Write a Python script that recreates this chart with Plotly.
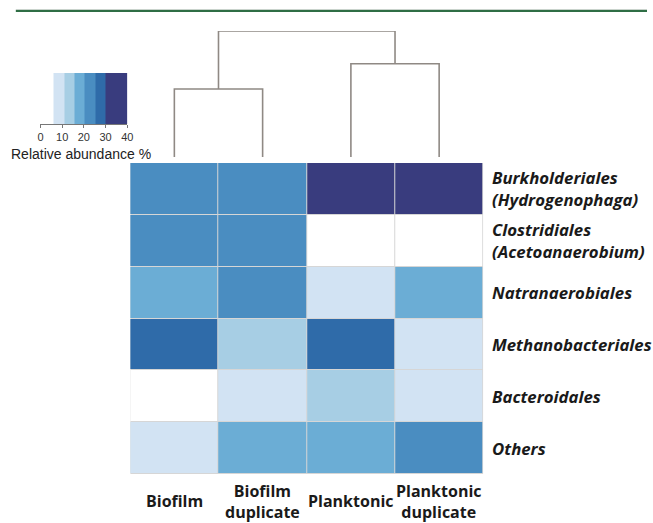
import plotly.graph_objects as go

# Samples (columns) and bacterial orders (rows), top to bottom
samples = ["Biofilm", "Biofilm<br>duplicate", "Planktonic", "Planktonic<br>duplicate"]
taxa = [
    "Burkholderiales<br>(Hydrogenophaga)",
    "Clostridiales<br>(Acetoanaerobium)",
    "Natranaerobiales",
    "Methanobacteriales",
    "Bacteroidales",
    "Others",
]

# Relative abundance (%) per taxon (rows) and sample (columns)
burkholderiales = [22, 23, 37, 38]
clostridiales = [22, 22, 0, 0]
natranaerobiales = [17, 22, 8, 18]
methanobacteriales = [28, 13, 28, 9]
bacteroidales = [0, 8, 13, 9]
others = [8, 17, 17, 24]
abundance = [burkholderiales, clostridiales, natranaerobiales,
             methanobacteriales, bacteroidales, others]

# Stepped colour scale: bin edges (%) and one colour per bin
bin_edges = [0, 6, 11, 15.5, 20.5, 25.5, 30, 40]
bin_colors = ["#ffffff", "#d2e3f3", "#a7cee4", "#6badd5", "#4a8dc1", "#2f6ba9", "#393c7e"]
legend_ticks = [0, 10, 20, 30, 40]
legend_title = "Relative abundance %"

# Sample clustering: leaf order 0..3, merge heights (relative distance)
merge_left = 0.54   # Biofilm + Biofilm duplicate
merge_right = 0.74  # Planktonic + Planktonic duplicate
merge_root = 1.0

zmax = bin_edges[-1]
colorscale = []
for i, c in enumerate(bin_colors):
    colorscale.append([bin_edges[i] / zmax, c])
    colorscale.append([bin_edges[i + 1] / zmax, c])

W, H = 653, 523


def px_x(p):
    return p / W


def px_y(p):
    return 1 - p / H


fig = go.Figure()

# Main heatmap
fig.add_trace(go.Heatmap(
    z=abundance,
    x=list(range(len(samples))),
    y=list(range(len(taxa))),
    colorscale=colorscale, zmin=0, zmax=zmax,
    xgap=1, ygap=1, showscale=False,
    hoverinfo="skip",
    xaxis="x", yaxis="y",
))

# Colour key
legend_mid = [(bin_edges[i] + bin_edges[i + 1]) / 2 for i in range(len(bin_colors))]
fig.add_trace(go.Heatmap(
    z=[legend_mid], x=bin_edges, y=[0],
    colorscale=colorscale, zmin=0, zmax=zmax,
    showscale=False, hoverinfo="skip",
    xaxis="x2", yaxis="y2",
))

# Dendrogram built from leaf positions and merge heights
left_c = (0 + 1) / 2
right_c = (2 + 3) / 2
dx, dy = [], []
for a, b, h in [(0, 1, merge_left), (2, 3, merge_right)]:
    dx += [a, a, b, b, None]
    dy += [0, h, h, 0, None]
dx += [left_c, left_c, right_c, right_c]
dy += [merge_left, merge_root, merge_root, merge_right]
fig.add_trace(go.Scatter(
    x=dx, y=dy, mode="lines",
    line=dict(color="#8f8984", width=1.6),
    hoverinfo="skip", showlegend=False,
    xaxis="x3", yaxis="y3",
))

hm_x = [px_x(129), px_x(487)]
hm_y = [px_y(474), px_y(163)]

fig.update_layout(
    width=W, height=H,
    margin=dict(l=0, r=0, t=0, b=0),
    paper_bgcolor="white", plot_bgcolor="white",
    showlegend=False,
    xaxis=dict(domain=hm_x, range=[-0.5, 3.5], visible=False, anchor="y"),
    yaxis=dict(domain=hm_y, range=[5.5, -0.5], visible=False, anchor="x"),
    xaxis2=dict(
        domain=[px_x(38), px_x(126)], range=[0, 40], anchor="y2",
        tickvals=legend_ticks, ticks="outside", ticklen=3, tickwidth=1,
        tickcolor="#777777", showline=True, linecolor="#777777", linewidth=1,
        showgrid=False, zeroline=False,
        tickfont=dict(family="Liberation Sans, Arial", size=11, color="#333333"),
    ),
    yaxis2=dict(domain=[px_y(124), px_y(73)], range=[-0.5, 0.5], visible=False, anchor="x2"),
    xaxis3=dict(domain=hm_x, range=[-0.5, 3.5], visible=False, anchor="y3"),
    yaxis3=dict(domain=[px_y(157), px_y(31)], range=[0, 1], visible=False, anchor="x3"),
)

# Colour key title
fig.add_annotation(
    x=px_x(79), xref="paper", y=px_y(144.5), yref="paper",
    text=legend_title, showarrow=False, xanchor="center", yanchor="top",
    borderpad=0,
    font=dict(family="Liberation Sans, Arial", size=14, color="#222222"),
)

# Light separator colour behind the cells
fig.add_shape(type="rect", xref="x", yref="y", x0=-0.5, x1=3.5, y0=-0.5, y1=5.5,
              fillcolor="#d6d6d6", line=dict(width=0), layer="below")

# Header rule
fig.add_shape(type="line", xref="paper", yref="paper",
              x0=px_x(13), x1=1, y0=px_y(9.5), y1=px_y(9.5),
              line=dict(color="#c9d3cc", width=1))
fig.add_shape(type="line", xref="paper", yref="paper",
              x0=px_x(13), x1=1, y0=px_y(11), y1=px_y(11),
              line=dict(color="#2f6e45", width=2))

# Row labels
for i, t in enumerate(taxa):
    fig.add_annotation(
        x=px_x(494), xref="paper", y=i, yref="y",
        text="<b><i>" + t + "</i></b>", showarrow=False,
        xanchor="left", yanchor="middle", align="left",
        font=dict(family="Open Sans", size=16.8, color="#1a1a1a"),
    )

# Column labels
for j, s in enumerate(samples):
    fig.add_annotation(
        x=j, xref="x", y=px_y(501), yref="paper",
        text="<b>" + s + "</b>", showarrow=False,
        xanchor="center", yanchor="middle", align="center",
        font=dict(family="Open Sans", size=16, color="#1a1a1a"),
    )

fig.write_html("out.html")
